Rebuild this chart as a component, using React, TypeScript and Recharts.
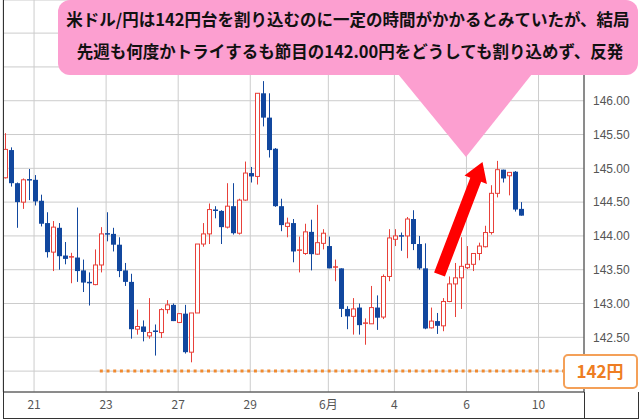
import React from 'react';
import { ComposedChart, Bar, XAxis, YAxis, CartesianGrid, ReferenceLine } from 'recharts';

// USD/JPY 4h candles, 20 May - 9 Jun
const openPrices = [
  144.86, 145.27, 144.78, 144.5, 144.83, 144.83, 144.52, 144.19, 143.76, 144.12,
  143.71, 143.68, 143.68, 143.49, 143.31, 143.28, 143.57, 144.03, 144.03, 143.87,
  143.49, 143.32, 142.62, 142.66, 142.52, 142.59, 142.57, 142.91, 142.98, 142.72,
  142.85, 142.28, 142.86, 143.88, 144.03, 144.38, 144.37, 144.13, 144.44, 144.04,
  144.53, 144.93, 144.88, 146.11, 145.75, 145.29, 144.44, 144.14, 144.19, 143.78,
  143.74, 144.06, 143.73, 143.89, 143.85, 143.53, 143.52, 142.92, 142.81, 142.94,
  142.7, 142.7, 142.94, 142.8, 143.4, 143.95, 144.0, 144.0, 144.25, 143.88,
  143.52, 142.64, 142.74, 142.67, 143.03, 143.29, 143.38, 143.53, 143.58, 143.74,
  143.84, 144.05, 144.63, 144.98, 144.89, 144.95, 144.4,
];
const highPrices = [
  145.52, 145.31, 144.79, 144.85, 144.99, 144.9, 144.61, 144.35, 144.22, 144.19,
  143.91, 143.75, 144.42, 143.65, 143.46, 143.8, 144.13, 144.35, 144.12, 143.98,
  143.6, 143.44, 142.91, 142.75, 143.08, 142.69, 142.93, 143.05, 143.0, 142.86,
  142.98, 142.86, 143.88, 144.19, 144.48, 144.44, 144.38, 144.78, 144.78, 144.55,
  145.1, 145.02, 146.11, 146.29, 146.11, 145.3, 144.55, 144.27, 144.25, 143.99,
  144.18, 144.24, 144.46, 144.1, 143.99, 143.65, 143.52, 142.96, 143.08, 143.0,
  142.78, 143.26, 143.12, 143.43, 144.1, 144.1, 144.05, 144.28, 144.38, 144.0,
  143.89, 142.94, 142.86, 143.08, 143.4, 143.6, 143.98, 143.85, 143.74, 143.9,
  144.15, 144.75, 145.11, 144.98, 144.94, 144.96, 144.5,
];
const lowPrices = [
  144.85, 144.73, 144.12, 144.4, 144.53, 144.45, 144.14, 143.68, 143.48, 143.5,
  143.58, 143.3, 143.32, 143.17, 142.97, 143.27, 143.46, 143.92, 143.77, 143.39,
  143.26, 142.48, 142.54, 142.44, 142.48, 142.23, 142.49, 142.85, 142.74, 142.71,
  142.26, 142.13, 142.86, 143.84, 143.88, 144.26, 143.88, 144.11, 144.02, 144.02,
  144.52, 144.79, 144.76, 145.62, 145.16, 144.43, 144.07, 143.98, 143.61, 143.46,
  143.72, 143.49, 143.72, 143.8, 143.52, 143.33, 142.8, 142.62, 142.54, 142.54,
  142.39, 142.7, 142.61, 142.77, 143.33, 143.85, 143.78, 143.67, 143.79, 143.5,
  142.62, 142.63, 142.55, 142.59, 143.02, 142.8, 142.92, 143.51, 143.48, 143.64,
  143.83, 144.02, 144.57, 144.79, 144.6, 144.36, 144.3,
];
const closePrices = [
  145.28, 144.78, 144.5, 144.83, 144.82, 144.51, 144.18, 143.76, 144.13, 143.7,
  143.66, 143.69, 143.48, 143.31, 143.29, 143.57, 144.03, 144.02, 143.87, 143.48,
  143.32, 142.62, 142.66, 142.58, 142.57, 142.58, 142.91, 142.98, 142.74, 142.85,
  142.28, 142.86, 143.88, 144.03, 144.39, 144.37, 144.13, 144.44, 144.04, 144.53,
  144.93, 144.88, 146.11, 145.75, 145.27, 144.44, 144.16, 144.19, 143.77, 143.79,
  144.06, 143.73, 143.9, 144.04, 143.52, 143.54, 142.92, 142.81, 142.92, 142.68,
  142.71, 142.94, 142.79, 143.4, 143.97, 144.0, 143.99, 144.25, 143.88, 143.52,
  142.63, 142.74, 142.67, 143.03, 143.29, 143.38, 143.55, 143.58, 143.74, 143.85,
  144.05, 144.63, 144.98, 144.85, 144.94, 144.39, 144.3,
];

const tickIndex = [6, 18, 30, 42, 55, 66, 78, 90];
const tickLabels = ['21', '23', '27', '29', '6月', '4', '6', '10'];
const priceTicks = [142, 142.5, 143, 143.5, 144, 144.5, 145, 145.5, 146, 146.5, 147];
// labels hidden under the callout / 142円 box
const hiddenPriceLabels = [142, 146.5, 147];

const data = openPrices.map((o, k) => ({
  i: k + 1,
  open: o,
  high: highPrices[k],
  low: lowPrices[k],
  close: closePrices[k],
  range: [lowPrices[k], highPrices[k]],
}));

const UP = '#e8413a';
const DOWN = '#11479e';

const Candle = (props: any) => {
  const { x, y, width, height, payload } = props;
  const { open, close, high, low } = payload;
  const c = Math.round(x + width / 2);
  const ratio = height / (high - low);
  const yo = y + (high - open) * ratio;
  const yc = y + (high - close) * ratio;
  const up = close > open;
  const col = up ? UP : DOWN;
  const top = Math.min(yo, yc);
  const h = Math.abs(yo - yc);
  return (
    <g>
      <line x1={c + 0.5} x2={c + 0.5} y1={y} y2={y + height} stroke={col} strokeWidth={1} />
      {h < 1.5 ? (
        <line x1={c - 2} x2={c + 3} y1={top} y2={top} stroke={col} strokeWidth={1.5} />
      ) : up ? (
        <rect x={c - 1.5} y={top} width={4} height={h} fill="#fff" stroke={col} strokeWidth={1} />
      ) : (
        <rect x={c - 2} y={top} width={5} height={h} fill={col} />
      )}
    </g>
  );
};

const arrowPoints = () => {
  const sx = 439.5, sy = 274.5, tx = 482.5, ty = 162;
  const len = Math.hypot(tx - sx, ty - sy);
  const dx = (tx - sx) / len, dy = (ty - sy) / len;
  const nx = -dy, ny = dx;
  const w = 5.8, hw = 12, hl = 19;
  const bx = tx - dx * hl, by = ty - dy * hl;
  const pts = [
    [sx + nx * w, sy + ny * w],
    [bx + nx * w, by + ny * w],
    [bx + nx * hw, by + ny * hw],
    [tx, ty],
    [bx - nx * hw, by - ny * hw],
    [bx - nx * w, by - ny * w],
    [sx - nx * w, sy - ny * w],
  ];
  return pts.map((p) => p.join(',')).join(' ');
};

export default function App() {
  return (
    <div style={{ position: 'absolute', left: 0, top: 0, width: 640, height: 419, background: '#fff', overflow: 'hidden' }}>
      <ComposedChart width={640} height={419} data={data} margin={{ top: 0, right: 0, bottom: 0, left: 3 }}>
        <CartesianGrid stroke="#cccccc" />
        <XAxis
          dataKey="i"
          type="number"
          domain={[0.83, 97.57]}
          allowDataOverflow
          ticks={tickIndex}
          interval={0}
          tickFormatter={(v: number) => tickLabels[tickIndex.indexOf(v)]}
          tickLine={false}
          axisLine={{ stroke: '#333' }}
          height={27}
          tick={{ fill: '#555', fontSize: 12, fontFamily: '"Noto Sans CJK JP", sans-serif' }}
        />
        <YAxis
          orientation="right"
          width={56}
          domain={[141.691, 147.49]}
          allowDataOverflow
          ticks={priceTicks}
          interval={0}
          tickFormatter={(v: number) => (hiddenPriceLabels.includes(v) ? '' : v.toFixed(2))}
          tickLine={false}
          tickMargin={3}
          axisLine={{ stroke: '#333' }}
          tick={{ fill: '#555', fontSize: 12, fontFamily: '"Liberation Sans", sans-serif' }}
        />
        <Bar dataKey="range" barSize={5} shape={<Candle />} isAnimationActive={false} />
        <ReferenceLine
          segment={[{ x: 16.95, y: 142 }, { x: 97.57, y: 142 }]}
          stroke="#f08a30"
          strokeWidth={3}
          strokeDasharray="3 3.7"
          ifOverflow="visible"
        />
      </ComposedChart>
      <svg width={640} height={419} style={{ position: 'absolute', left: 0, top: 0, pointerEvents: 'none' }}>
        <line x1={3.5} x2={3.5} y1={0} y2={418.5} stroke="#333" />
        <line x1={3} x2={639} y1={418.5} y2={418.5} stroke="#333" />
        <line x1={584.5} x2={584.5} y1={392} y2={419} stroke="#333" />
        <line x1={638.5} x2={638.5} y1={392} y2={419} stroke="#333" />
        <polygon points={arrowPoints()} fill="#ff0000" />
        <rect x={58} y={0} width={580} height={75} rx={12} fill="#fc9fd0" />
        <polygon points="398,74 532,74 466,157" fill="#fc9fd0" />
        <text x={348} y={26} textAnchor="middle" fontSize={16.5} fontWeight="bold" fill="#111" fontFamily='"Noto Sans CJK JP", sans-serif'>
          米ドル/円は142円台を割り込むのに一定の時間がかかるとみていたが、結局
        </text>
        <text x={350} y={58} textAnchor="middle" fontSize={16.5} fontWeight="bold" fill="#111" fontFamily='"Noto Sans CJK JP", sans-serif'>
          先週も何度かトライするも節目の142.00円をどうしても割り込めず、反発
        </text>
        <rect x={564} y={355} width={73} height={33} rx={4} fill="#fff" stroke="#f4a058" strokeWidth={2} />
        <text x={600} y={378} textAnchor="middle" fontSize={17} fontWeight="bold" fill="#ee7d22" fontFamily='"Noto Sans CJK JP", sans-serif'>
          142円
        </text>
      </svg>
    </div>
  );
}
